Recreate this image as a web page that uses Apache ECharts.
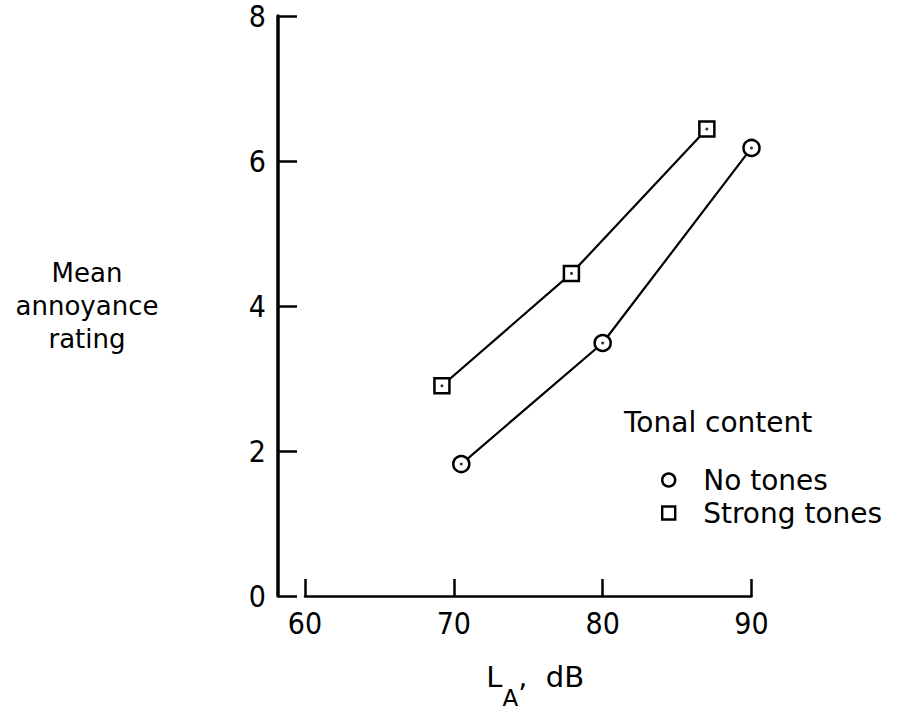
<!DOCTYPE html>
<html><head><meta charset="utf-8">
<script src="https://cdn.jsdelivr.net/npm/echarts@6/dist/echarts.min.js"></script>
<style>html,body{margin:0;padding:0;background:#fff}#c{width:900px;height:714px}</style>
</head><body><div id="c"></div><script>
// ---- data ----
const xTickLabels = [60, 70, 80, 90];
const yTickLabels = [0, 2, 4, 6, 8];
const seriesNames = ['No tones', 'Strong tones'];
const noTonesX = [70.5, 80.0, 90.0];
const noTonesY = [1.82, 3.49, 6.18];
const strongX = [69.2, 77.9, 87.0];
const strongY = [2.90, 4.45, 6.44];
const legendTitle = 'Tonal content';
const yName = 'Mean\nannoyance\nrating';

const digitFont = "'Liberation Sans Narrow', 'DejaVu Sans Condensed', sans-serif";
const textFont = "'DejaVu Sans', sans-serif";

const pairs = (xs, ys) => xs.map((x, i) => [x, ys[i]]);
const noTones = pairs(noTonesX, noTonesY);
const strong = pairs(strongX, strongY);

const chart = echarts.init(document.getElementById('c'), null, {renderer: 'svg'});
chart.setOption({
  animation: false,
  backgroundColor: '#fff',
  grid: {left: 305, right: 148.5, top: 16, bottom: 113, containLabel: false},
  title: {
    text: legendTitle, left: 624, top: 408, padding: 0,
    textStyle: {fontFamily: textFont, fontSize: 28, fontWeight: 'normal', color: '#000'}
  },
  legend: {
    orient: 'vertical', left: 661, top: 465, padding: 0,
    itemWidth: 13, itemHeight: 13, itemGap: 3,
    textStyle: {fontFamily: textFont, fontSize: 28, color: '#000', lineHeight: 30, padding: [0, 0, 0, 23]},
    data: [
      {name: seriesNames[0], icon: 'circle', itemStyle: {color: '#fff', borderColor: '#000', borderWidth: 2.4}},
      {name: seriesNames[1], icon: 'rect', itemStyle: {color: '#fff', borderColor: '#000', borderWidth: 2.4}}
    ]
  },
  xAxis: {
    type: 'value', min: xTickLabels[0], max: xTickLabels[xTickLabels.length - 1], interval: 10,
    splitLine: {show: false},
    axisLine: {show: true, onZero: false, lineStyle: {color: '#000', width: 2.5}},
    axisTick: {show: true, inside: true, length: 17, lineStyle: {color: '#000', width: 2.5}},
    axisLabel: {margin: 12, fontFamily: digitFont, fontSize: 30, color: '#000'},
    name: '{l|L}{s|A}{l|,  dB}',
    nameLocation: 'middle', nameGap: 66,
    nameTextStyle: {
      padding: [0, 0, 0, 14],
      rich: {
        l: {fontFamily: textFont, fontSize: 29, color: '#000', lineHeight: 30, verticalAlign: 'top'},
        s: {fontFamily: textFont, fontSize: 23, color: '#000', lineHeight: 24, verticalAlign: 'top', padding: [24, 0, 0, 0]}
      }
    }
  },
  yAxis: {
    type: 'value', min: yTickLabels[0], max: yTickLabels[yTickLabels.length - 1], interval: 2,
    offset: 27,
    splitLine: {show: false},
    axisLine: {show: true, lineStyle: {color: '#000', width: 3.5}},
    axisTick: {show: true, inside: true, length: 19, lineStyle: {color: '#000', width: 2.5}},
    axisLabel: {margin: 12, fontFamily: digitFont, fontSize: 30, lineHeight: 24, color: '#000'},
    name: yName, nameLocation: 'middle', nameRotate: 0, nameGap: 191,
    nameTextStyle: {
      fontFamily: textFont, fontSize: 26, color: '#000', lineHeight: 33,
      align: 'center', verticalAlign: 'middle', padding: [0, 0, 32, 0]
    }
  },
  series: [
    {
      name: seriesNames[0], type: 'line', data: noTones, z: 3,
      symbol: 'circle', symbolSize: 16,
      lineStyle: {color: '#000', width: 2.2},
      itemStyle: {color: '#fff', borderColor: '#000', borderWidth: 2.5}
    },
    {
      name: seriesNames[1], type: 'line', data: strong, z: 3,
      symbol: 'rect', symbolSize: 15,
      lineStyle: {color: '#000', width: 2.2},
      itemStyle: {color: '#fff', borderColor: '#000', borderWidth: 2.5}
    },
    {
      name: 'centers', type: 'scatter', data: noTones.concat(strong), z: 5,
      symbol: 'circle', symbolSize: 3, itemStyle: {color: '#000'}, silent: true
    }
  ]
});
</script></body></html>
